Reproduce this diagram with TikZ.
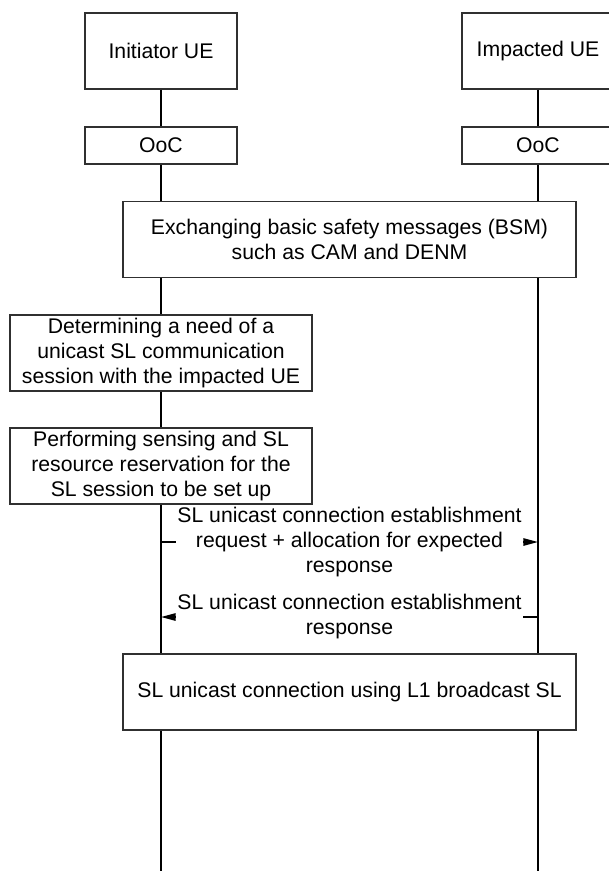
\documentclass[tikz,border=0pt]{standalone}
\usepackage{fontspec}
\setmainfont{Liberation Sans}
\usetikzlibrary{arrows.meta, positioning, calc}
\definecolor{boxgray}{HTML}{303030}
\definecolor{lifeblack}{HTML}{000000}

\tikzset{
  basebox/.style={draw=boxgray, line width=0.8pt, fill=white, inner sep=0pt, align=center,
    font=\fontsize{15.9}{18.75}\selectfont},
  entity/.style={basebox, minimum width=114pt, minimum height=57pt},
  statebox/.style={basebox, minimum width=114pt, minimum height=27.75pt},
  widebox/.style={basebox, minimum width=339.75pt, minimum height=57pt},
  localbox/.style={basebox, minimum width=226.5pt, minimum height=57pt},
  lifeline/.style={draw=lifeblack, line width=1.3pt},
  msgarrow/.style={draw=lifeblack, line width=1.3pt, -{Triangle[length=11pt,width=5.5pt]}},
  msglabel/.style={fill=white, inner xsep=1pt, inner ysep=0pt, align=center,
    font=\fontsize{15.9}{18.75}\selectfont}
}

\begin{document}
\begin{tikzpicture}[x=0.75pt, y=-0.75pt]
  \useasboundingbox (0,0) rectangle (608,871);

  % Entities on top
  \node[entity] (init) at (161,51) {Initiator UE};
  \node[entity] (imp) at (538,51) {Impacted UE};

  % Lifelines down to the bottom
  \coordinate (initEnd) at (161,871);
  \coordinate (impEnd) at (538,871);
  \draw[lifeline] (init.south) -- (initEnd);
  \draw[lifeline] (imp.south) -- (impEnd);

  % Coverage state
  \node[statebox] (initOoc) at (161,145.5) {OoC};
  \node[statebox] (impOoc) at (538,145.5) {OoC};

  % Shared step
  \node[widebox] (bsm) at (349.5,239.5) {Exchanging basic safety messages (BSM)\\such as CAM and DENM};

  % Steps at the initiator
  \node[localbox] (need) at (161,353) {Determining a need of a\\unicast SL communication\\session with the impacted UE};
  \node[localbox] (sense) at (161,466) {Performing sensing and SL\\resource reservation for the\\SL session to be set up};

  % Messages
  \coordinate (reqFrom) at (161,542);
  \coordinate (reqTo) at (538,542);
  \draw[msgarrow] (reqFrom) -- node[msglabel] (reqText) {SL unicast connection establishment\\request + allocation for expected\\response} (reqTo);

  \coordinate (rspFrom) at (538,617);
  \coordinate (rspTo) at (161,617);
  \draw[msgarrow] (rspFrom) -- node[msglabel] (rspText) {SL unicast connection establishment\\response} (rspTo);

  % Resulting connection
  \node[widebox] (conn) at (349.5,692) {SL unicast connection using L1 broadcast SL};
\end{tikzpicture}
\end{document}
